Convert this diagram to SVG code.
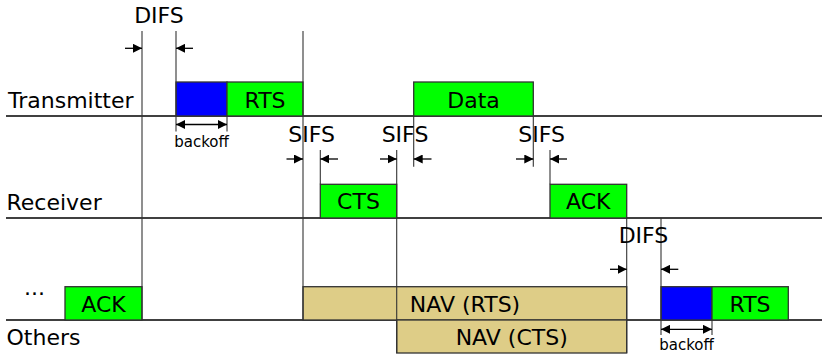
<svg xmlns="http://www.w3.org/2000/svg" width="822" height="354" viewBox="0 0 822 354">
  <defs>
    <marker id="head" viewBox="0 0 10 10" refX="10" refY="5" markerUnits="userSpaceOnUse" markerWidth="9" markerHeight="9" orient="auto-start-reverse">
      <path d="M0,0 L10,5 L0,10 z" fill="#000"/>
    </marker>
    <style>
      text { font-family: "DejaVu Sans", "Bitstream Vera Sans", sans-serif; fill: #000; }
      .lbl { font-size: 22px; }
      .mid { text-anchor: middle; }
      .small { font-size: 15px; text-anchor: middle; }
      .axis { stroke: #000; stroke-width: 1.3; fill: none; }
      .tick { stroke: #333; stroke-width: 1.1; fill: none; }
      .gap { stroke: #000; stroke-width: 1.3; fill: none; marker-end: url(#head); }
      .span { stroke: #000; stroke-width: 1.3; fill: none; marker-start: url(#head); marker-end: url(#head); }
      .frame { stroke: #333; stroke-width: 1.3; }
      .green { fill: #00ff00; }
      .blue { fill: #0000ff; }
      .nav { fill: #decd87; }
    </style>
  </defs>

  <!-- station time axes -->
  <g id="axes">
    <line class="axis" x1="6" y1="116" x2="822" y2="116"/>
    <line class="axis" x1="6" y1="218" x2="822" y2="218"/>
    <line class="axis" x1="6" y1="320" x2="822" y2="320"/>
    <text class="lbl" x="8" y="108">Transmitter</text>
    <text class="lbl" x="6.5" y="209.5">Receiver</text>
    <text class="lbl" x="6.5" y="345">Others</text>
    <text class="lbl" x="24" y="295">...</text>
  </g>

  <!-- frames on the Others axis (earlier traffic) -->
  <g id="ack-others">
    <rect class="frame green" x="65" y="286.7" width="77" height="33.3"/>
    <text class="lbl mid" x="103.5" y="311.5">ACK</text>
  </g>

  <!-- Transmitter: backoff + RTS -->
  <g id="tx-backoff">
    <rect class="frame blue" x="176" y="82" width="51" height="34"/>
  </g>
  <g id="tx-rts">
    <rect class="frame green" x="227" y="82" width="76" height="34"/>
    <text class="lbl mid" x="265" y="108">RTS</text>
  </g>
  <g id="tx-data">
    <rect class="frame green" x="413.7" y="82" width="119.6" height="34"/>
    <text class="lbl mid" x="473.5" y="108">Data</text>
  </g>

  <!-- Receiver: CTS + ACK -->
  <g id="rx-cts">
    <rect class="frame green" x="320.3" y="184.3" width="76.4" height="33.7"/>
    <text class="lbl mid" x="358.5" y="209">CTS</text>
  </g>
  <g id="rx-ack">
    <rect class="frame green" x="550" y="184.3" width="76.7" height="33.7"/>
    <text class="lbl mid" x="588.3" y="209">ACK</text>
  </g>

  <!-- Others: NAV periods -->
  <g id="nav-rts">
    <rect class="frame nav" x="303" y="286.7" width="323.7" height="33.3"/>
    <text class="lbl mid" x="465" y="311.5">NAV (RTS)</text>
  </g>
  <g id="nav-cts">
    <rect class="frame nav" x="396.7" y="320" width="230" height="33"/>
    <text class="lbl mid" x="511.7" y="345">NAV (CTS)</text>
  </g>

  <!-- Others: backoff + RTS after DIFS -->
  <g id="oth-backoff">
    <rect class="frame blue" x="661" y="286.7" width="51" height="33.3"/>
  </g>
  <g id="oth-rts">
    <rect class="frame green" x="712" y="286.7" width="76.3" height="33.3"/>
    <text class="lbl mid" x="750" y="311.5">RTS</text>
  </g>

  <!-- timing marks and interval arrows -->
  <g id="connectors">
    <!-- vertical reference lines -->
    <line class="tick" x1="142" y1="31" x2="142" y2="320"/>
    <line class="tick" x1="176" y1="31" x2="176" y2="131.5"/>
    <line class="tick" x1="227" y1="116" x2="227" y2="131.5"/>
    <line class="tick" x1="303" y1="31" x2="303" y2="320"/>
    <line class="tick" x1="320.3" y1="150" x2="320.3" y2="184.3"/>
    <line class="tick" x1="396.7" y1="150" x2="396.7" y2="353"/>
    <line class="tick" x1="413.7" y1="116" x2="413.7" y2="166.7"/>
    <line class="tick" x1="533.3" y1="116" x2="533.3" y2="166.7"/>
    <line class="tick" x1="550" y1="150" x2="550" y2="184.3"/>
    <line class="tick" x1="626.7" y1="218" x2="626.7" y2="353"/>
    <line class="tick" x1="661" y1="218" x2="661" y2="335"/>
    <line class="tick" x1="712" y1="320" x2="712" y2="335"/>

    <!-- DIFS (transmitter) -->
    <line class="gap" x1="125" y1="48.3" x2="142" y2="48.3"/>
    <line class="gap" x1="193" y1="48.3" x2="176" y2="48.3"/>
    <!-- SIFS before CTS -->
    <line class="gap" x1="286.5" y1="159" x2="303" y2="159"/>
    <line class="gap" x1="338" y1="159" x2="320.3" y2="159"/>
    <!-- SIFS before Data -->
    <line class="gap" x1="380" y1="159" x2="396.7" y2="159"/>
    <line class="gap" x1="431.5" y1="159" x2="413.7" y2="159"/>
    <!-- SIFS before ACK -->
    <line class="gap" x1="516" y1="159" x2="533.3" y2="159"/>
    <line class="gap" x1="567" y1="159" x2="550" y2="159"/>
    <!-- DIFS (others) -->
    <line class="gap" x1="610" y1="269.3" x2="626.7" y2="269.3"/>
    <line class="gap" x1="678.3" y1="269.3" x2="661" y2="269.3"/>

    <!-- backoff spans -->
    <line class="span" x1="176" y1="124.5" x2="227" y2="124.5"/>
    <line class="span" x1="661" y1="329.3" x2="712" y2="329.3"/>
  </g>

  <!-- interval labels -->
  <g id="labels">
    <text class="lbl mid" x="159" y="23">DIFS</text>
    <text class="lbl mid" x="311.7" y="141.7">SIFS</text>
    <text class="lbl mid" x="405" y="141.7">SIFS</text>
    <text class="lbl mid" x="541.7" y="141.7">SIFS</text>
    <text class="lbl mid" x="643.5" y="243">DIFS</text>
    <text class="small" x="201.5" y="146.5">backoff</text>
    <text class="small" x="686.5" y="350">backoff</text>
  </g>
</svg>
